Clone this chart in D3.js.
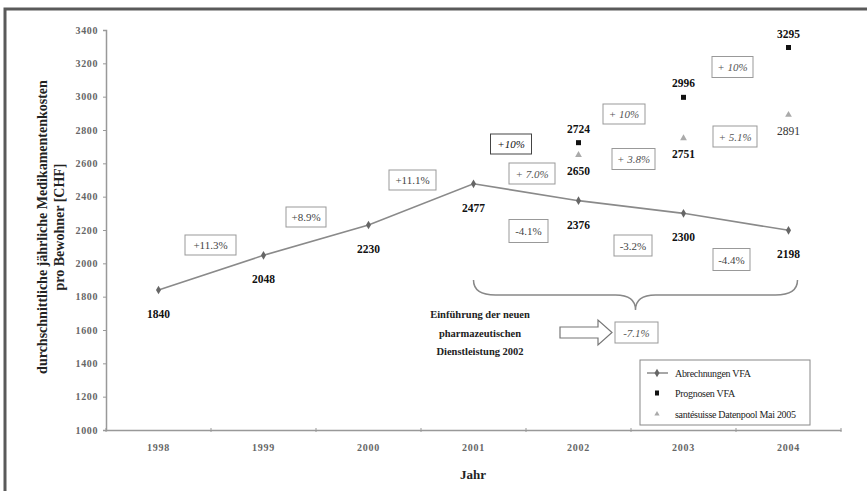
<!DOCTYPE html>
<html><head><meta charset="utf-8">
<script src="https://cdn.jsdelivr.net/npm/d3@7"></script>
<style>body{margin:0;background:#fff}svg{display:block}text{font-family:"Liberation Serif","Times New Roman",serif}</style>
</head><body><svg id="c" width="867" height="491"></svg>
<script>
const years = ["1998","1999","2000","2001","2002","2003","2004"];
const abrechnungen = [1840, 2048, 2230, 2477, 2376, 2300, 2198];
const prognosenYears = ["2002","2003","2004"];
const prognosen = [2724, 2996, 3295];
const santesuisseYears = ["2002","2003","2004"];
const santesuisse = [2650, 2751, 2891];
const yTicks = [1000,1200,1400,1600,1800,2000,2200,2400,2600,2800,3000,3200,3400];
const legendLabels = ["Abrechnungen VFA","Prognosen VFA","santésuisse Datenpool Mai 2005"];
const pctLabels = ["+11.3%","+8.9%","+11.1%","+10%","+ 7.0%","+ 10%","+ 3.8%","+ 10%","+ 5.1%","-4.1%","-3.2%","-4.4%","-7.1%"];

const svg = d3.select("#c");
const x = d3.scaleBand().domain(years).range([106, 841]);
const y = d3.scaleLinear().domain([1000, 3400]).range([430, 30]);
const cx = d => x(d) + x.bandwidth()/2;

// frame
svg.append("path").attr("d","M5,491 V9 H867").attr("fill","none").attr("stroke","#5a5a5a").attr("stroke-width",3);

// y axis
const ya = svg.append("g").attr("transform","translate(106,0)")
  .call(d3.axisLeft(y).tickValues(yTicks).tickFormat(d3.format("d")).tickSize(3).tickPadding(5));
ya.select(".domain").attr("stroke","#999").attr("stroke-width",1.5);
ya.selectAll(".tick line").attr("stroke","#999");
ya.selectAll(".tick text").attr("font-family","Liberation Serif").attr("font-size",10).attr("font-weight","bold").attr("fill","#666").attr("letter-spacing",0.6);

// x axis
const xa = svg.append("g").attr("transform","translate(0,430)")
  .call(d3.axisBottom(x).tickSize(0).tickPadding(14));
xa.select(".domain").attr("stroke","#999").attr("stroke-width",1.5);
xa.selectAll(".tick text").attr("font-family","Liberation Serif").attr("font-size",10).attr("font-weight","bold").attr("fill","#666").attr("letter-spacing",0.8);
// boundary ticks
svg.append("g").selectAll("line").data(years.concat(["end"])).join("line")
  .attr("x1",(d,i)=>106 + i*x.bandwidth()).attr("x2",(d,i)=>106 + i*x.bandwidth())
  .attr("y1",428).attr("y2",432).attr("stroke","#999");

// axis titles
const yt = svg.append("text").attr("transform","translate(47,227) rotate(-90)").attr("text-anchor","middle")
  .attr("font-size",14).attr("font-weight","bold").attr("fill","#222");
yt.append("tspan").attr("x",0).attr("dy",0).text("durchschnittliche jährliche Medikamentenkosten");
yt.append("tspan").attr("x",0).attr("dy",17).text("pro Bewohner [CHF]");
svg.append("text").attr("x",473).attr("y",479).attr("text-anchor","middle").attr("font-size",13).attr("font-weight","bold").attr("fill","#222").text("Jahr");

// line
const line = d3.line().x((d,i)=>cx(years[i])).y(d=>y(d));
svg.append("path").datum(abrechnungen).attr("d",line).attr("fill","none").attr("stroke","#8a8a8a").attr("stroke-width",1.6);
const diamond = d3.symbol().type(d3.symbolDiamond).size(22);
svg.append("g").selectAll("path").data(abrechnungen).join("path")
  .attr("transform",(d,i)=>`translate(${cx(years[i])},${y(d)})`).attr("d",diamond).attr("fill","#666");
svg.append("g").selectAll("text").data(abrechnungen).join("text")
  .attr("x",(d,i)=>cx(years[i])).attr("y",d=>y(d)+28).attr("text-anchor","middle")
  .attr("font-size",11.5).attr("font-weight","bold").attr("fill","#111").text(d=>d);

// prognosen squares
svg.append("g").selectAll("rect").data(prognosen).join("rect")
  .attr("x",(d,i)=>cx(prognosenYears[i])-2.5).attr("y",d=>y(d)-2.5).attr("width",5).attr("height",5).attr("fill","#111");
svg.append("g").selectAll("text").data(prognosen).join("text")
  .attr("x",(d,i)=>cx(prognosenYears[i])).attr("y",d=>y(d)-10).attr("text-anchor","middle")
  .attr("font-size",11.5).attr("font-weight","bold").attr("fill","#111").text(d=>d);

// santesuisse triangles
const tri = d3.symbol().type(d3.symbolTriangle).size(20);
svg.append("g").selectAll("path").data(santesuisse).join("path")
  .attr("transform",(d,i)=>`translate(${cx(santesuisseYears[i])},${y(d)})`).attr("d",tri).attr("fill","#aaa");
svg.append("g").selectAll("text").data(santesuisse).join("text")
  .attr("x",(d,i)=>cx(santesuisseYears[i])).attr("y",d=>y(d)+20).attr("text-anchor","middle")
  .attr("font-size",11.5).attr("font-weight",(d,i)=>i===2?"normal":"bold").attr("fill",(d,i)=>i===2?"#333":"#111").text(d=>d);

// percentage boxes (annotation layout)
const boxPos = [
  [210.5,245,51,20,"n"],[306,217,40,20,"n"],[412.5,180,47,20,"n"],
  [511,144,41,20,"b"],[532,173.5,46,21,"i"],[624,114,42,20,"i"],[633.5,159,43,21,"i"],
  [732.5,67,41,21,"i"],[735,136.5,44,21,"i"],
  [528.5,231,39,23,"n"],[633,245.5,38,21,"n"],[731.5,259.5,37,22,"n"],[636.5,332.5,43,21,"i"]
];
const ann = svg.append("g");
pctLabels.forEach((t,i)=>{
  const [px,py,w,h,s] = boxPos[i];
  ann.append("rect").attr("x",px-w/2).attr("y",py-h/2).attr("width",w).attr("height",h)
    .attr("fill","#fff").attr("stroke",s==="b"?"#444":"#999").attr("stroke-width",1);
  ann.append("text").attr("x",px).attr("y",py+4).attr("text-anchor","middle").attr("font-size",11)
    .attr("font-style",s==="n"?"normal":"italic").attr("fill",s==="b"?"#111":(s==="i"?"#555":"#444"))
    .text(t);
});

// brace
const bx0 = cx("2001"), bx1 = cx("2004")+9, bm = (bx0+bx1)/2;
const yTop = 280, yMid = 295, yTip = 310;
const bp = d3.path();
bp.moveTo(bx0, yTop);
bp.quadraticCurveTo(bx0, yMid, bx0+22, yMid);
bp.lineTo(bm-20, yMid);
bp.quadraticCurveTo(bm, yMid, bm, yTip);
bp.quadraticCurveTo(bm, yMid, bm+20, yMid);
bp.lineTo(bx1-22, yMid);
bp.quadraticCurveTo(bx1, yMid, bx1, yTop);
svg.append("path").attr("d",bp.toString()).attr("fill","none").attr("stroke","#888").attr("stroke-width",1.5);

// hollow arrow
svg.append("path").attr("d","M560,327 H598 V320 L612,332.5 L598,345 V338 H560 Z").attr("fill","#fff").attr("stroke","#777").attr("stroke-width",1.2);

// intervention text
const it = svg.append("text").attr("text-anchor","middle").attr("font-size",10.5).attr("font-weight","bold").attr("fill","#222");
[["Einführung der neuen",318],["pharmazeutischen",337],["Dienstleistung 2002",355]].forEach(([t,yy])=>{
  it.append("tspan").attr("x",480).attr("y",yy).text(t);
});

// legend
const lg = svg.append("g");
lg.append("rect").attr("x",640).attr("y",360).attr("width",170).attr("height",65).attr("fill","#fff").attr("stroke","#888");
const ly = [373,393,414];
lg.append("line").attr("x1",647).attr("x2",668).attr("y1",ly[0]).attr("y2",ly[0]).attr("stroke","#8a8a8a").attr("stroke-width",1.5);
lg.append("path").attr("transform",`translate(657,${ly[0]})`).attr("d",diamond).attr("fill","#666");
lg.append("rect").attr("x",655).attr("y",ly[1]-2.5).attr("width",4).attr("height",5).attr("fill","#111");
lg.append("path").attr("transform",`translate(657,${ly[2]})`).attr("d",d3.symbol().type(d3.symbolTriangle).size(12)).attr("fill","#aaa");
lg.selectAll("text.l").data(legendLabels).join("text").attr("class","l")
  .attr("x",675).attr("y",(d,i)=>ly[i]+3.5).attr("font-size",10).attr("letter-spacing",-0.3).attr("fill","#222").text(d=>d);
</script></body></html>
